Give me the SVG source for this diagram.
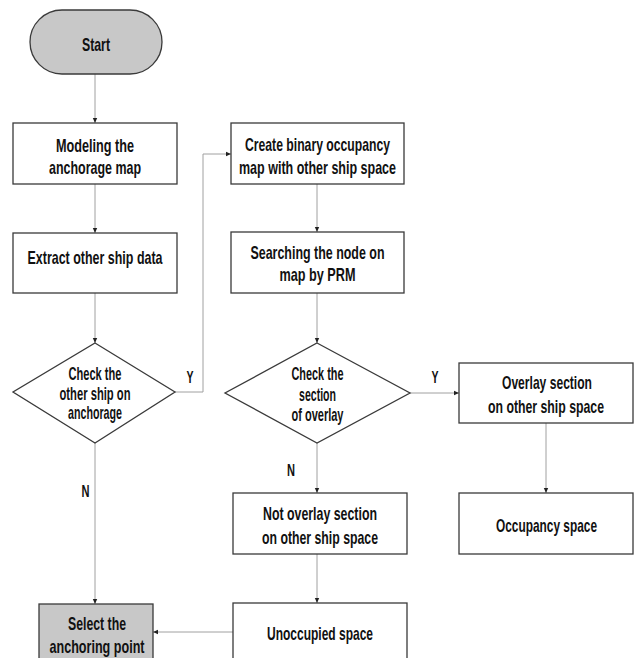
<svg xmlns="http://www.w3.org/2000/svg" width="636" height="658" viewBox="0 0 636 658">
<defs>
<style>
.box{fill:#fff;stroke:#3a3a3a;stroke-width:1.3}
.gray{fill:#c8c8c8;stroke:#3a3a3a;stroke-width:1.3}
.t{font-family:"Liberation Sans",Arial,sans-serif;font-weight:bold;font-size:19px;fill:#111;text-anchor:middle}
.lbl{font-family:"Liberation Sans",Arial,sans-serif;font-weight:bold;font-size:16px;fill:#111;text-anchor:middle}
.c{fill:none;stroke:#a0a0a0;stroke-width:1;marker-end:url(#ah)}
</style>
<marker id="ah" markerWidth="6" markerHeight="6" refX="5" refY="3" orient="auto" markerUnits="userSpaceOnUse">
<path d="M0,0.8 L5,3 L0,5.2 Z" fill="#222"/>
</marker>
</defs>
<rect width="636" height="658" fill="#fff"/>
<g id="connectors">
<path class="c" d="M95,74 V123"/>
<path class="c" d="M95,184 V233"/>
<path class="c" d="M95,293 V343"/>
<path class="c" d="M175,392 H203 V154 H231"/>
<path class="c" d="M95,443 V604"/>
<path class="c" d="M317,184 V232"/>
<path class="c" d="M317,293 V343"/>
<path class="c" d="M410,393 H459"/>
<path class="c" d="M317,443 V493"/>
<path class="c" d="M546,423 V493"/>
<path class="c" d="M317,554 V603"/>
<path class="c" d="M233,632 H153"/>
<text class="lbl" x="190" y="383" textLength="7" lengthAdjust="spacingAndGlyphs">Y</text>
<text class="lbl" x="85.5" y="497" textLength="8" lengthAdjust="spacingAndGlyphs">N</text>
<text class="lbl" x="435" y="383" textLength="7" lengthAdjust="spacingAndGlyphs">Y</text>
<text class="lbl" x="291" y="476" textLength="8" lengthAdjust="spacingAndGlyphs">N</text>
</g>
<g id="start">
<rect class="gray" x="30" y="10" width="132" height="64" rx="32"/>
<text class="t" x="96" y="51" textLength="28" lengthAdjust="spacingAndGlyphs">Start</text>
</g>
<g id="modeling">
<rect class="box" x="13" y="123" width="164" height="61"/>
<text class="t" x="95" y="152" textLength="78" lengthAdjust="spacingAndGlyphs">Modeling the</text>
<text class="t" x="95" y="174" textLength="92" lengthAdjust="spacingAndGlyphs">anchorage map</text>
</g>
<g id="extract">
<rect class="box" x="13" y="233" width="164" height="60"/>
<text class="t" x="95" y="264" textLength="135" lengthAdjust="spacingAndGlyphs">Extract other ship data</text>
</g>
<g id="check1">
<path class="box" d="M95,343 L175,392 L95,443 L13,392 Z"/>
<text class="t" x="95" y="380" textLength="53" lengthAdjust="spacingAndGlyphs">Check the</text>
<text class="t" x="95" y="400" textLength="71" lengthAdjust="spacingAndGlyphs">other ship on</text>
<text class="t" x="95" y="419" textLength="54" lengthAdjust="spacingAndGlyphs">anchorage</text>
</g>
<g id="select">
<rect class="gray" x="39" y="604" width="114" height="70"/>
<text class="t" x="97" y="630" textLength="58" lengthAdjust="spacingAndGlyphs">Select the</text>
<text class="t" x="97" y="653" textLength="95" lengthAdjust="spacingAndGlyphs">anchoring point</text>
</g>
<g id="create">
<rect class="box" x="231" y="123" width="173" height="61"/>
<text class="t" x="317.5" y="151" textLength="145" lengthAdjust="spacingAndGlyphs">Create binary occupancy</text>
<text class="t" x="317.5" y="174" textLength="157" lengthAdjust="spacingAndGlyphs">map with other ship space</text>
</g>
<g id="searching">
<rect class="box" x="231" y="232" width="173" height="61"/>
<text class="t" x="317.5" y="259" textLength="134" lengthAdjust="spacingAndGlyphs">Searching the node on</text>
<text class="t" x="317.5" y="281" textLength="76" lengthAdjust="spacingAndGlyphs">map by PRM</text>
</g>
<g id="check2">
<path class="box" d="M317,343 L410,393 L317,443 L225,393 Z"/>
<text class="t" x="317.5" y="380" textLength="52" lengthAdjust="spacingAndGlyphs">Check the</text>
<text class="t" x="317.5" y="401" textLength="37" lengthAdjust="spacingAndGlyphs">section</text>
<text class="t" x="317.5" y="421" textLength="52" lengthAdjust="spacingAndGlyphs">of overlay</text>
</g>
<g id="overlay">
<rect class="box" x="459" y="363" width="174" height="60"/>
<text class="t" x="547" y="389" textLength="90" lengthAdjust="spacingAndGlyphs">Overlay section</text>
<text class="t" x="546" y="413" textLength="116" lengthAdjust="spacingAndGlyphs">on other ship space</text>
</g>
<g id="occupancy">
<rect class="box" x="459" y="493" width="174" height="61"/>
<text class="t" x="546.5" y="532" textLength="101" lengthAdjust="spacingAndGlyphs">Occupancy space</text>
</g>
<g id="notoverlay">
<rect class="box" x="233" y="493" width="174" height="61"/>
<text class="t" x="320" y="520" textLength="114" lengthAdjust="spacingAndGlyphs">Not overlay section</text>
<text class="t" x="320" y="544" textLength="116" lengthAdjust="spacingAndGlyphs">on other ship space</text>
</g>
<g id="unoccupied">
<rect class="box" x="233" y="603" width="174" height="70"/>
<text class="t" x="320" y="640" textLength="106" lengthAdjust="spacingAndGlyphs">Unoccupied space</text>
</g>
</svg>
